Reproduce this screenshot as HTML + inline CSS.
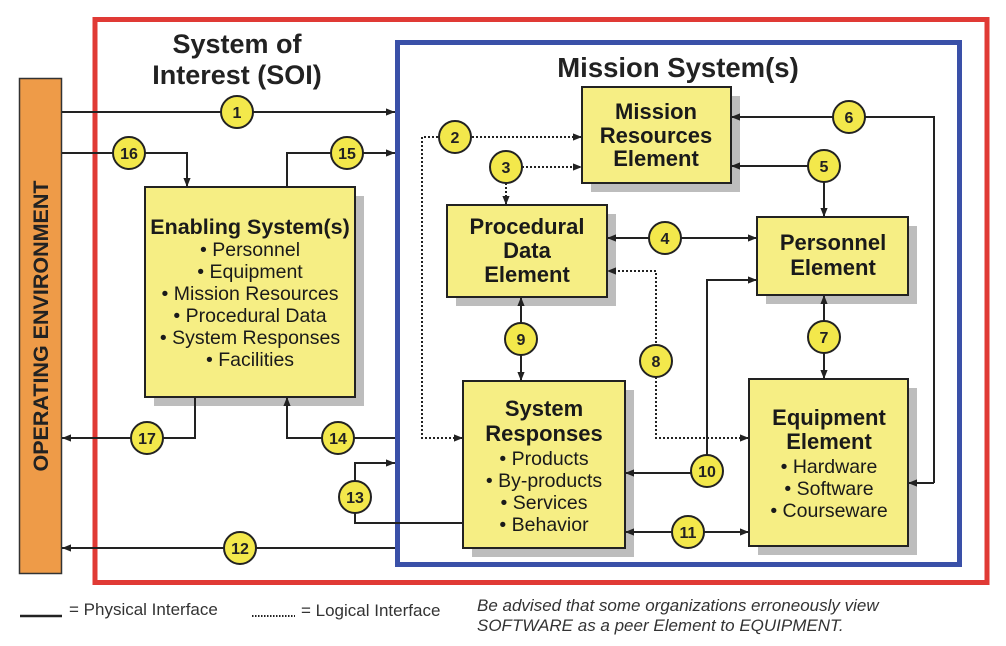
<!DOCTYPE html>
<html><head><meta charset="utf-8"><style>
html,body{margin:0;padding:0;background:#fff;}
svg{display:block;font-family:"Liberation Sans",Arial,sans-serif;}
</style></head><body>
<svg width="1006" height="646" viewBox="0 0 1006 646" xmlns="http://www.w3.org/2000/svg">
<defs>
<marker id="a" viewBox="0 0 10 10" refX="10" refY="5" markerWidth="9" markerHeight="9" markerUnits="userSpaceOnUse" orient="auto-start-reverse"><path d="M0,1 L10,5 L0,9 Z" fill="#222"/></marker>
</defs>
<rect x="0" y="0" width="1006" height="646" fill="#fff"/>
<rect x="19.5" y="78.5" width="42" height="495" fill="#EE9B48" stroke="#333" stroke-width="1.5"/>
<text transform="translate(48,326) rotate(-90)" text-anchor="middle" font-size="21.5" font-weight="bold" fill="#222">OPERATING ENVIRONMENT</text>
<rect x="95" y="19.5" width="892" height="563" fill="none" stroke="#E03A35" stroke-width="5"/>
<rect x="397.5" y="42.5" width="562" height="522" fill="none" stroke="#3A50A8" stroke-width="5"/>
<text x="237" y="53" text-anchor="middle" font-size="27" font-weight="bold" fill="#222">System of</text>
<text x="237" y="84" text-anchor="middle" font-size="27" font-weight="bold" fill="#222">Interest (SOI)</text>
<text x="678" y="77" text-anchor="middle" font-size="27.5" font-weight="bold" fill="#222">Mission System(s)</text>

<g fill="#bdbdbd">
<rect x="154" y="196" width="210" height="210"/>
<rect x="591" y="96" width="149" height="96"/>
<rect x="456" y="214" width="160" height="92"/>
<rect x="766" y="226" width="151" height="78"/>
<rect x="472" y="390" width="162" height="167"/>
<rect x="758" y="388" width="159" height="167"/>
</g>
<g fill="#F6EE84" stroke="#222" stroke-width="2">
<rect x="145" y="187" width="210" height="210"/>
<rect x="582" y="87" width="149" height="96"/>
<rect x="447" y="205" width="160" height="92"/>
<rect x="757" y="217" width="151" height="78"/>
<rect x="463" y="381" width="162" height="167"/>
<rect x="749" y="379" width="159" height="167"/>
</g>

<g fill="#1a1a1a" text-anchor="middle">
<text x="250" y="234" font-size="21.5" font-weight="bold">Enabling System(s)</text>
<g font-size="19.5">
<text x="250" y="256">• Personnel</text>
<text x="250" y="278">• Equipment</text>
<text x="250" y="300">• Mission Resources</text>
<text x="250" y="322">• Procedural Data</text>
<text x="250" y="344">• System Responses</text>
<text x="250" y="366">• Facilities</text>
</g>
<g font-size="22" font-weight="bold">
<text x="656" y="119">Mission</text>
<text x="656" y="143">Resources</text>
<text x="656" y="166">Element</text>
<text x="527" y="234">Procedural</text>
<text x="527" y="258">Data</text>
<text x="527" y="282">Element</text>
<text x="833" y="250">Personnel</text>
<text x="833" y="275">Element</text>
<text x="544" y="416">System</text>
<text x="544" y="441">Responses</text>
<text x="829" y="425">Equipment</text>
<text x="829" y="449">Element</text>
</g>
<g font-size="19.5">
<text x="544" y="465">• Products</text>
<text x="544" y="487">• By-products</text>
<text x="544" y="509">• Services</text>
<text x="544" y="531">• Behavior</text>
<text x="829" y="473">• Hardware</text>
<text x="829" y="495">• Software</text>
<text x="829" y="517">• Courseware</text>
</g>
</g>

<g fill="none" stroke="#222" stroke-width="2">
<line x1="62" y1="112" x2="395" y2="112" marker-end="url(#a)"/>
<polyline points="62,153 187,153 187,187" marker-end="url(#a)"/>
<polyline points="287,187 287,153 395,153" marker-end="url(#a)"/>
<line x1="607" y1="238" x2="757" y2="238" marker-start="url(#a)" marker-end="url(#a)"/>
<polyline points="824,166 731,166" marker-end="url(#a)"/>
<line x1="824" y1="166" x2="824" y2="217" marker-end="url(#a)"/>
<polyline points="934,483 934,117 731,117" marker-end="url(#a)"/>
<line x1="934" y1="483" x2="908" y2="483" marker-end="url(#a)"/>
<line x1="824" y1="295" x2="824" y2="379" marker-start="url(#a)" marker-end="url(#a)"/>
<line x1="521" y1="297" x2="521" y2="381" marker-start="url(#a)" marker-end="url(#a)"/>
<polyline points="707,471 707,280 757,280" marker-end="url(#a)"/>
<line x1="707" y1="473" x2="625" y2="473" marker-end="url(#a)"/>
<line x1="625" y1="532" x2="749" y2="532" marker-start="url(#a)" marker-end="url(#a)"/>
<line x1="395" y1="548" x2="62" y2="548" marker-end="url(#a)"/>
<polyline points="463,523 355,523 355,463 395,463" marker-end="url(#a)"/>
<polyline points="395,438 287,438 287,397" marker-end="url(#a)"/>
<polyline points="195,397 195,438 62,438" marker-end="url(#a)"/>
</g>
<g fill="none" stroke="#222" stroke-width="2" stroke-dasharray="2,2">
<polyline points="463,438 422,438 422,137 582,137" marker-start="url(#a)" marker-end="url(#a)"/>
<line x1="506" y1="167" x2="582" y2="167" marker-end="url(#a)"/>
<line x1="506" y1="167" x2="506" y2="205" marker-end="url(#a)"/>
<polyline points="749,438 656,438 656,271 607,271" marker-start="url(#a)" marker-end="url(#a)"/>
</g>

<g stroke="#222" stroke-width="2" fill="#F3E84B">
<circle cx="237" cy="112" r="16"/>
<circle cx="455" cy="137" r="16"/>
<circle cx="506" cy="167" r="16"/>
<circle cx="665" cy="238" r="16"/>
<circle cx="824" cy="166" r="16"/>
<circle cx="849" cy="117" r="16"/>
<circle cx="824" cy="337" r="16"/>
<circle cx="656" cy="361" r="16"/>
<circle cx="521" cy="339" r="16"/>
<circle cx="707" cy="471" r="16"/>
<circle cx="688" cy="532" r="16"/>
<circle cx="240" cy="548" r="16"/>
<circle cx="355" cy="497" r="16"/>
<circle cx="338" cy="438" r="16"/>
<circle cx="347" cy="153" r="16"/>
<circle cx="129" cy="153" r="16"/>
<circle cx="147" cy="438" r="16"/>
</g>
<g font-size="16" font-weight="bold" fill="#222" text-anchor="middle">
<text x="237" y="118">1</text>
<text x="455" y="143">2</text>
<text x="506" y="173">3</text>
<text x="665" y="244">4</text>
<text x="824" y="172">5</text>
<text x="849" y="123">6</text>
<text x="824" y="343">7</text>
<text x="656" y="367">8</text>
<text x="521" y="345">9</text>
<text x="707" y="477">10</text>
<text x="688" y="538">11</text>
<text x="240" y="554">12</text>
<text x="355" y="503">13</text>
<text x="338" y="444">14</text>
<text x="347" y="159">15</text>
<text x="129" y="159">16</text>
<text x="147" y="444">17</text>
</g>

<line x1="20" y1="616" x2="62" y2="616" stroke="#222" stroke-width="2.5"/>
<text x="69" y="615" font-size="17" fill="#333">= Physical Interface</text>
<line x1="252" y1="616" x2="295" y2="616" stroke="#222" stroke-width="2" stroke-dasharray="1.5,1.5"/>
<text x="301" y="616" font-size="17" fill="#333">= Logical Interface</text>
<text x="477" y="611" font-size="17" font-style="italic" fill="#333">Be advised that some organizations erroneously view</text>
<text x="477" y="631" font-size="17" font-style="italic" fill="#333">SOFTWARE as a peer Element to EQUIPMENT.</text>
</svg>
</body></html>
